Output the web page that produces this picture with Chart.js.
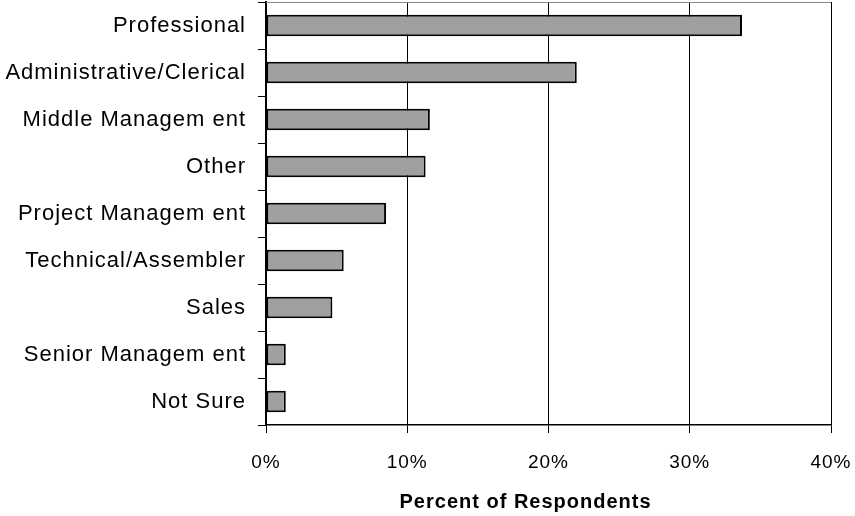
<!DOCTYPE html>
<html>
<head>
<meta charset="utf-8">
<script src="https://cdn.jsdelivr.net/npm/chart.js@4/dist/chart.umd.min.js"></script>
<style>
  html, body { margin: 0; padding: 0; background: #fff; }
  #wrap { width: 855px; height: 516px; }
</style>
</head>
<body>
<div id="wrap"><canvas id="c" width="855" height="516"></canvas></div>
<script>
// Job categories of respondents and their share (percent)
const categories = [
  'Professional',
  'Administrative/Clerical',
  'Middle Managem ent',
  'Other',
  'Project Managem ent',
  'Technical/Assembler',
  'Sales',
  'Senior Managem ent',
  'Not Sure'
];
const percentValues = [33.7, 22.0, 11.6, 11.3, 8.5, 5.5, 4.7, 1.4, 1.4];
const xTickValues = [0, 10, 20, 30, 40];
const xAxisTitle = 'Percent of Respondents';

// Slightly open letter spacing for all canvas text, and a thin grey top edge on the plot frame
const framePlugin = {
  id: 'frame',
  beforeLayout(chart) { chart.ctx.letterSpacing = '1px'; },
  beforeDraw(chart) { chart.ctx.letterSpacing = '1px'; },
  afterDraw(chart) {
    const { ctx, chartArea } = chart;
    ctx.save();
    ctx.strokeStyle = '#8a8a8a';
    ctx.lineWidth = 1;
    ctx.beginPath();
    ctx.moveTo(chartArea.left, chartArea.top + 0.5);
    ctx.lineTo(chartArea.right, chartArea.top + 0.5);
    ctx.stroke();
    ctx.restore();
  }
};

// Keep the plot area fixed by the layout padding only (no extra room for overhanging labels)
function clearLabelPadding(scale) {
  scale.paddingTop = 0;
  scale.paddingBottom = 0;
  scale.paddingLeft = 0;
  scale.paddingRight = 0;
}

new Chart(document.getElementById('c'), {
  type: 'bar',
  data: {
    labels: categories,
    datasets: [{
      data: percentValues,
      backgroundColor: '#a0a0a0',
      borderColor: '#000000',
      borderWidth: 2,
      borderSkipped: false,
      categoryPercentage: 1.0,
      barPercentage: 0.455
    }]
  },
  options: {
    indexAxis: 'y',
    responsive: false,
    animation: false,
    devicePixelRatio: 1,
    layout: { padding: { top: 2, right: 24, left: 0, bottom: 0 } },
    plugins: {
      legend: { display: false },
      tooltip: { enabled: false }
    },
    scales: {
      x: {
        min: 0,
        max: 40,
        afterFit(scale) { scale.height = 91; clearLabelPadding(scale); },
        afterBuildTicks(scale) { scale.ticks = xTickValues.map(v => ({ value: v })); },
        border: { display: true, color: '#000', width: 1.5 },
        grid: {
          display: true,
          drawOnChartArea: true,
          drawTicks: true,
          tickLength: 8,
          color: '#000',
          lineWidth: 1
        },
        ticks: {
          padding: 18,
          color: '#000',
          font: { family: 'Liberation Sans, Arial, sans-serif', size: 19 },
          callback: v => v + '%'
        },
        title: {
          display: true,
          // trailing spaces nudge the centred title a little to the left
          text: xAxisTitle + '       ',
          color: '#000',
          padding: { top: 0, bottom: 2 },
          font: { family: 'Liberation Sans, Arial, sans-serif', size: 20, weight: 'bold' }
        }
      },
      y: {
        afterFit(scale) { scale.width = 266; clearLabelPadding(scale); },
        border: { display: true, color: '#000', width: 2 },
        grid: {
          display: true,
          offset: true,
          drawOnChartArea: false,
          drawTicks: true,
          tickLength: 8,
          color: '#000',
          lineWidth: 1
        },
        ticks: {
          padding: 12,
          color: '#000',
          font: { family: 'Liberation Sans, Arial, sans-serif', size: 22 }
        }
      }
    }
  },
  plugins: [framePlugin]
});
</script>
</body>
</html>
